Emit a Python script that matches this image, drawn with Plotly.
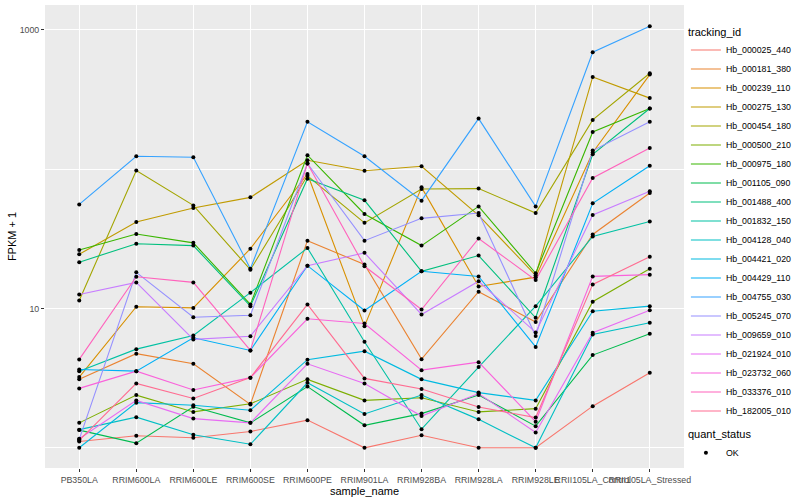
import plotly.graph_objects as go

samples = ["PB350LA", "RRIM600LA", "RRIM600LE", "RRIM600SE", "RRIM600PE", "RRIM901LA",
           "RRIM928BA", "RRIM928LA", "RRIM928LE", "RRII105LA_Control", "RRII105LA_Stressed"]

# FPKM + 1 values per gene (tracking_id), one value per sample
hb_000025_440 = [1.11, 1.22, 1.18, 1.31, 1.58, 1.0, 1.23, 1.0, 1.0, 1.99, 3.46]
hb_000181_380 = [3.10, 4.74, 4.01, 2.05, 30.7, 20.7, 4.33, 13.2, 8.0, 34.0, 67.5]
hb_000239_110 = [3.22, 10.3, 10.1, 26.9, 92.4, 7.47, 74.1, 14.4, 16.8, 132, 478]
hb_000275_130 = [24.5, 41.8, 52.7, 62.8, 116, 97.6, 105, 46.7, 17.3, 460, 324]
hb_000454_180 = [11.4, 98.0, 55.0, 19.0, 89.8, 41.2, 72.1, 72.6, 48.5, 226, 489]
hb_000500_210 = [1.51, 2.39, 1.81, 2.07, 3.10, 2.19, 2.29, 1.81, 1.91, 11.2, 19.3]
hb_000975_180 = [26.3, 34.3, 29.6, 10.7, 126, 47.7, 28.3, 54.1, 17.9, 185, 273]
hb_001105_090 = [1.34, 1.08, 1.97, 1.51, 2.75, 1.45, 1.76, 2.39, 1.43, 4.63, 6.59]
hb_001488_400 = [21.5, 29.2, 28.3, 10.4, 85.5, 59.8, 18.5, 24.0, 8.58, 128, 273]
hb_001832_150 = [3.55, 5.11, 6.40, 13.0, 27.2, 5.77, 1.36, 3.80, 10.4, 32.9, 42.2]
hb_004128_040 = [1.35, 1.66, 1.24, 1.06, 2.93, 1.75, 2.39, 1.60, 1.0, 6.51, 7.90]
hb_004421_020 = [1.0, 2.11, 2.02, 1.86, 4.29, 4.94, 3.10, 2.49, 2.19, 9.56, 10.4]
hb_004429_110 = [3.65, 3.55, 6.17, 5.00, 20.3, 9.67, 18.5, 17.0, 5.30, 56.9, 106]
hb_004755_030 = [55.9, 124, 122, 19.3, 219, 124, 59.5, 231, 54.1, 692, 1063]
hb_005245_070 = [1.15, 18.2, 8.66, 8.95, 110, 30.7, 44.4, 48.5, 6.35, 136, 219]
hb_009659_010 = [12.6, 15.4, 6.00, 6.33, 20.3, 25.1, 9.06, 15.7, 6.73, 47.0, 69.6]
hb_021924_010 = [1.16, 2.19, 1.62, 1.51, 4.01, 2.89, 1.69, 2.45, 1.29, 6.70, 9.72]
hb_023732_060 = [2.67, 3.55, 2.60, 3.19, 8.44, 7.81, 3.61, 4.12, 1.54, 17.0, 17.5]
hb_033376_010 = [4.31, 16.9, 15.4, 5.00, 110, 20.1, 9.84, 31.8, 16.0, 86.5, 142]
hb_182005_010 = [1.13, 2.90, 2.26, 3.19, 10.7, 3.15, 2.64, 1.96, 1.65, 14.9, 23.5]

tracking_ids = ["Hb_000025_440", "Hb_000181_380", "Hb_000239_110", "Hb_000275_130",
                "Hb_000454_180", "Hb_000500_210", "Hb_000975_180", "Hb_001105_090",
                "Hb_001488_400", "Hb_001832_150", "Hb_004128_040", "Hb_004421_020",
                "Hb_004429_110", "Hb_004755_030", "Hb_005245_070", "Hb_009659_010",
                "Hb_021924_010", "Hb_023732_060", "Hb_033376_010", "Hb_182005_010"]
series = [hb_000025_440, hb_000181_380, hb_000239_110, hb_000275_130, hb_000454_180,
          hb_000500_210, hb_000975_180, hb_001105_090, hb_001488_400, hb_001832_150,
          hb_004128_040, hb_004421_020, hb_004429_110, hb_004755_030, hb_005245_070,
          hb_009659_010, hb_021924_010, hb_023732_060, hb_033376_010, hb_182005_010]
colors = ["#F8766D", "#EA8331", "#D89000", "#C09B00", "#A3A500", "#7CAE00", "#39B600",
          "#00BB4E", "#00BF7D", "#00C1A3", "#00BFC4", "#00BAE0", "#00B0F6", "#35A2FF",
          "#9590FF", "#C77CFF", "#E76BF3", "#FA62DB", "#FF62BC", "#FF6C91"]

FONT = "Liberation Sans, Arial, Helvetica, sans-serif"

fig = go.Figure()
for name, vals, col in zip(tracking_ids, series, colors):
    fig.add_trace(go.Scatter(x=samples, y=vals, mode="lines", name=name,
                             line=dict(color=col, width=1.1), legend="legend",
                             hoverinfo="skip"))

all_x = [s for vals in series for s in samples]
all_y = [v for vals in series for v in vals]
fig.add_trace(go.Scatter(x=all_x, y=all_y, mode="markers", name="OK",
                         marker=dict(color="black", size=4, symbol="circle"),
                         legend="legend2", hoverinfo="skip"))

fig.update_layout(
    width=800, height=500,
    margin=dict(l=45, r=116, t=5, b=32, autoexpand=False),
    paper_bgcolor="white",
    plot_bgcolor="#EBEBEB",
    font=dict(family=FONT, size=9, color="black"),
    xaxis=dict(
        type="category", range=[-0.6, 10.6], tickangle=0, automargin=False,
        showgrid=True, gridcolor="white", gridwidth=1.1,
        ticks="outside", ticklen=3, tickcolor="#333333", tickwidth=1,
        tickfont=dict(size=8.8, color="#4D4D4D", family=FONT),
        title=dict(text="sample_name", font=dict(size=11, color="black"), standoff=2),
        showline=False, zeroline=False,
    ),
    yaxis=dict(
        type="log", range=[-0.145, 3.179], automargin=False,
        tickmode="array", tickvals=[10, 1000], ticktext=["10", "1000"],
        showgrid=True, gridcolor="white", gridwidth=1.1,
        minor=dict(tickmode="array", tickvals=[1, 100], showgrid=True,
                   gridcolor="white", gridwidth=0.55, ticks=""),
        ticks="outside", ticklen=3, tickcolor="#333333", tickwidth=1,
        tickfont=dict(size=8.8, color="#4D4D4D", family=FONT),
        title=dict(text="FPKM + 1", font=dict(size=11, color="black"), standoff=0),
        showline=False, zeroline=False,
    ),
    legend=dict(
        title=dict(text="tracking_id", font=dict(size=11)),
        x=1.003, xanchor="left", y=0.965, yanchor="top",
        font=dict(size=8.8), itemwidth=30, tracegroupgap=0,
        bgcolor="rgba(0,0,0,0)",
    ),
    legend2=dict(
        title=dict(text="quant_status", font=dict(size=11)),
        x=1.003, xanchor="left", y=0.095, yanchor="top",
        font=dict(size=8.8), itemwidth=30,
        bgcolor="rgba(0,0,0,0)",
    ),
    showlegend=True,
)

fig.write_html("out.html", config={"displayModeBar": False},
               post_script="document.body.style.margin='0px';")
